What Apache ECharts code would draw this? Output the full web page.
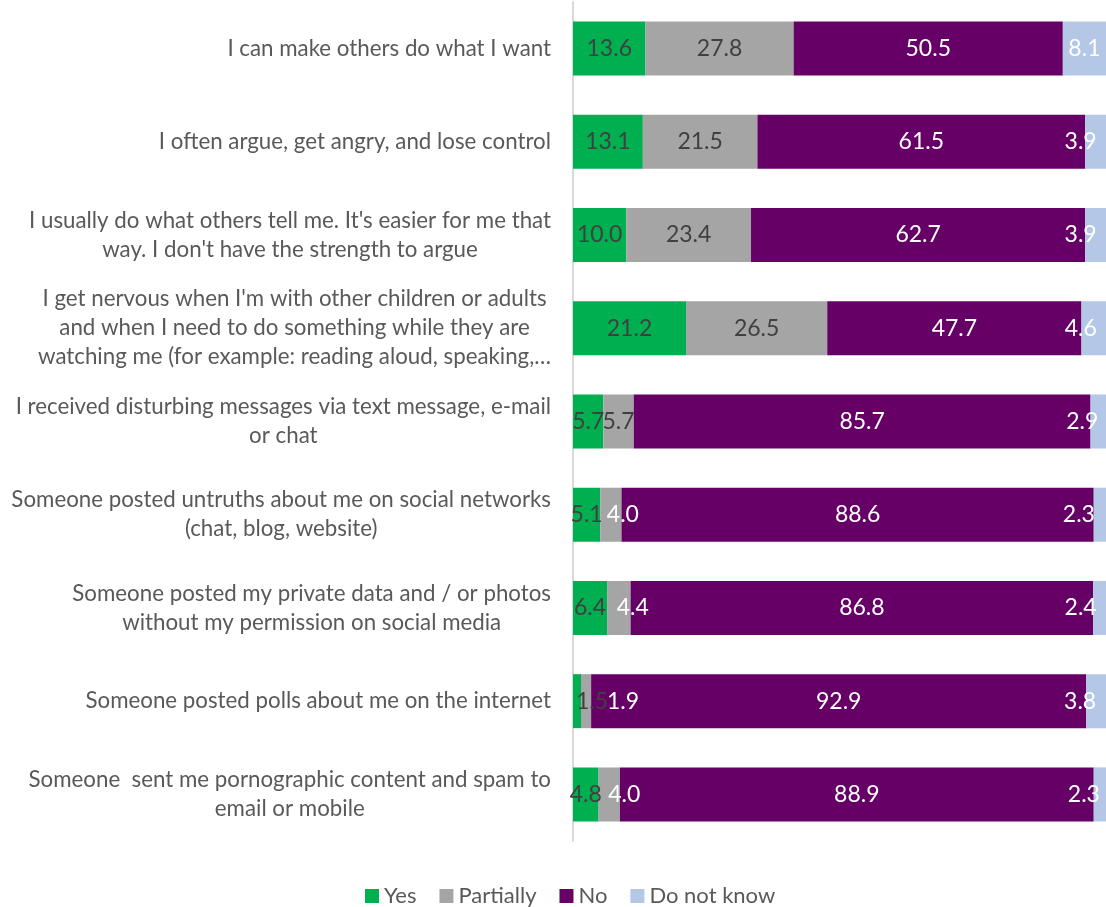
<!DOCTYPE html>
<html>
<head>
<meta charset="utf-8">
<title>Self-reported behaviours and online experiences</title>
<script src="https://cdn.jsdelivr.net/npm/echarts@6/dist/echarts.min.js"></script>
<style>
  html, body { margin: 0; padding: 0; background: #ffffff; }
  #chart { width: 1106px; height: 907px; }
</style>
</head>
<body>
<div id="chart"></div>
<script>
// Statements (top to bottom); "\n" marks the wrapped lines
const categories = [
  "I can make others do what I want",
  "I often argue, get angry, and lose control",
  "I usually do what others tell me. It's easier for me that\nway. I don't have the strength to argue",
  "I get nervous when I'm with other children or adults\nand when I need to do something while they are\nwatching me (for example: reading aloud, speaking,\u2026",
  "I received disturbing messages via text message, e-mail\nor chat",
  "Someone posted untruths about me on social networks\n(chat, blog, website)",
  "Someone posted my private data and / or photos\nwithout my permission on social media",
  "Someone posted polls about me on the internet",
  "Someone  sent me pornographic content and spam to\nemail or mobile"
];

const seriesNames = ["Yes", "Partially", "No", "Do not know"];

// Shares of answers, in percent
const yes       = [13.6, 13.1, 10.0, 21.2, 5.7, 5.1, 6.4, 1.5, 4.8];
const partially = [27.8, 21.5, 23.4, 26.5, 5.7, 4.0, 4.4, 1.9, 4.0];
const no        = [50.5, 61.5, 62.7, 47.7, 85.7, 88.6, 86.8, 92.9, 88.9];
const dontKnow  = [8.1, 3.9, 3.9, 4.6, 2.9, 2.3, 2.4, 3.8, 2.3];

const colors = ["#00b050", "#a5a5a5", "#660066", "#b4c7e7"];
const FONT = "Lato, 'Open Sans', sans-serif";
const DARK = "#404040";
const WHITE = "#ffffff";

// Horizontal nudges for labels that sit on narrow segments
const yesShift  = [0, 0, 0, 0, 0, 0, 0, 15, 0];
const partShift = [0, 0, 0, 0, 0, 12, 14, 37, 15];
const dkShift   = [0, -15, -15, -13, -16, -21, -19, -16, -16];

function points(values, shifts, colorFor) {
  return values.map((v, i) => ({
    value: v,
    label: { offset: [shifts ? shifts[i] : 0, 0], color: colorFor(i) }
  }));
}

function barSeries(name, data, color) {
  return {
    name: name,
    type: "bar",
    stack: "total",
    barWidth: 54,
    itemStyle: { color: color },
    label: {
      show: true,
      position: "inside",
      fontFamily: FONT,
      fontSize: 23,
      formatter: p => Number(p.value).toFixed(1)
    },
    emphasis: { disabled: true },
    data: data
  };
}

const chart = echarts.init(document.getElementById("chart"), null, { renderer: "canvas" });

chart.setOption({
  animation: false,
  backgroundColor: "#ffffff",
  color: colors,
  legend: {
    data: seriesNames,
    left: 360,
    top: 880,
    icon: "rect",
    itemWidth: 14,
    itemHeight: 14,
    itemGap: 23,
    textStyle: { fontFamily: FONT, fontSize: 22, color: "#595959", padding: [0, 0, 0, 0] }
  },
  grid: { left: 573, right: 0, top: 2, bottom: 66, outerBoundsMode: "none", containLabel: false },
  xAxis: {
    type: "value",
    min: 0,
    max: 100,
    show: false
  },
  yAxis: {
    type: "category",
    inverse: true,
    data: categories,
    axisTick: { show: false },
    axisLine: { show: true, lineStyle: { color: "#d9d9d9", width: 2 } },
    axisLabel: {
      margin: 22,
      align: "right",
      formatter: v => v.split("\n").map(l => "{c|" + l + "}").join("\n"),
      rich: {
        c: { align: "center", fontFamily: FONT, fontSize: 22.3, lineHeight: 29, color: "#595959" }
      }
    }
  },
  series: [
    barSeries(seriesNames[0], points(yes, yesShift, () => DARK), colors[0]),
    barSeries(seriesNames[1], points(partially, partShift, i => (partShift[i] ? WHITE : DARK)), colors[1]),
    barSeries(seriesNames[2], points(no, null, () => WHITE), colors[2]),
    barSeries(seriesNames[3], points(dontKnow, dkShift, () => WHITE), colors[3])
  ]
});
</script>
</body>
</html>
